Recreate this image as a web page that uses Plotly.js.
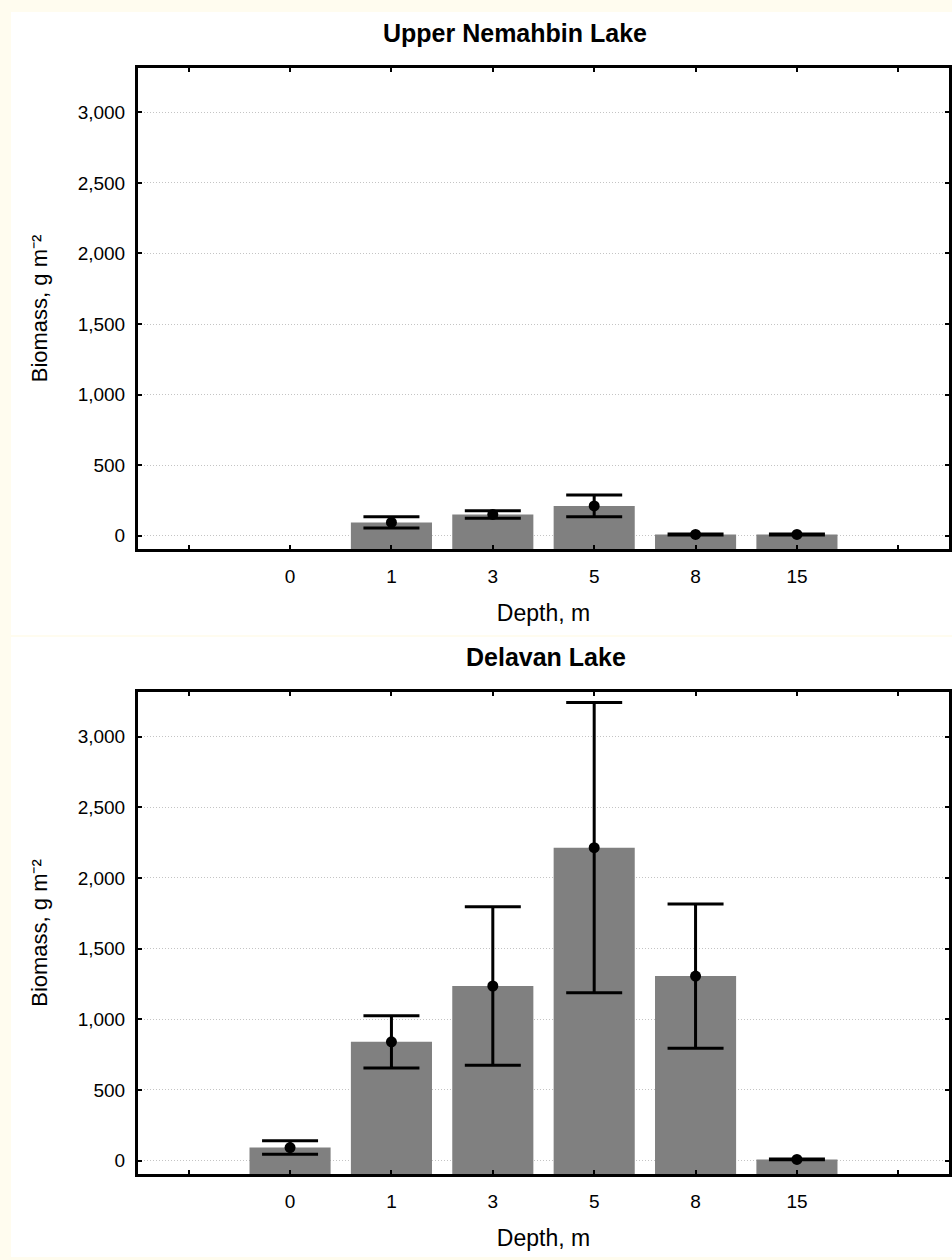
<!DOCTYPE html>
<html>
<head>
<meta charset="utf-8">
<script src="https://cdn.plot.ly/plotly-3.0.1.min.js"></script>
<style>
  html, body { margin: 0; padding: 0; background: #fffcef; }
  #wrap { position: relative; width: 952px; height: 1260px; overflow: hidden; }
  .panel { position: absolute; background: #ffffff; left: 11px; width: 941px; }
  #p1 { top: 12px; height: 623px; }
  #p2 { top: 637px; height: 620px; }
  #chart { position: absolute; left: 0; top: 0; width: 952px; height: 1260px; }
</style>
</head>
<body>
<div id="wrap">
  <div class="panel" id="p1"></div>
  <div class="panel" id="p2"></div>
  <div id="chart"></div>
</div>
<script>
// ---- data ----
const depths = ['0', '1', '3', '5', '8', '15'];
const lakeTitles = ['Upper Nemahbin Lake', 'Delavan Lake'];

const nemahbinMean = [null, 93, 150, 210, 8, 8];
const nemahbinErr  = [null, 40, 27, 77, 3, 3];

const delavanMean = [92, 840, 1235, 2214, 1305, 8];
const delavanErr  = [48, 185, 560, 1027, 510, 3];

const yTickVals = [0, 500, 1000, 1500, 2000, 2500, 3000];

// ---- layout constants ----
const Y_MIN = -95, Y_MAX = 3315;
const FONT = 'Liberation Sans, Arial, sans-serif';

// index positions derived from the depth list (one empty slot on each side)
const xPos = depths.map((d, i) => i);

function barTrace(means, xa, ya) {
  return {
    type: 'bar', xaxis: xa, yaxis: ya,
    x: xPos,
    base: Y_MIN,
    y: means.map(v => v == null ? null : v - Y_MIN),
    width: 0.8,
    marker: { color: '#808080', line: { width: 0 } },
    hoverinfo: 'skip', showlegend: false
  };
}
function meanTrace(means, errs, xa, ya) {
  return {
    type: 'scatter', mode: 'markers', xaxis: xa, yaxis: ya,
    x: xPos, y: means,
    marker: { color: '#000000', size: 11 },
    error_y: { type: 'data', array: errs, visible: true, color: '#000000', thickness: 3, width: 28 },
    showlegend: false
  };
}

const data = [
  barTrace(nemahbinMean, 'x', 'y'),
  meanTrace(nemahbinMean, nemahbinErr, 'x', 'y'),
  barTrace(delavanMean, 'x2', 'y2'),
  meanTrace(delavanMean, delavanErr, 'x2', 'y2')
];

function xAxis(anchor) {
  return {
    anchor: anchor, domain: [0, 1],
    range: [-1.5, depths.length + 0.5],
    tickmode: 'array', tickvals: xPos, ticktext: depths,
    ticks: 'inside', ticklen: 4, tickwidth: 2, tickcolor: '#000',
    minor: { tickmode: 'linear', tick0: 0, dtick: 1, ticks: 'inside', ticklen: 4, tickwidth: 2, tickcolor: '#000', showgrid: false },
    showline: true, linewidth: 3, linecolor: '#000', mirror: 'ticks',
    showgrid: false, zeroline: false,
    tickfont: { family: FONT, size: 19, color: '#000' },
    ticklabelstandoff: 8,
    title: { text: 'Depth, m', font: { family: FONT, size: 23, color: '#000' }, standoff: 20 }
  };
}
function yAxis(anchor, domain) {
  return {
    anchor: anchor, domain: domain,
    range: [Y_MIN, Y_MAX],
    tickmode: 'array', tickvals: yTickVals, tickformat: ',d',
    ticks: 'inside', ticklen: 4, tickwidth: 2, tickcolor: '#000',
    showline: true, linewidth: 3, linecolor: '#000', mirror: 'ticks',
    showgrid: true, gridcolor: '#c4c4c4', gridwidth: 1, griddash: '1px,2px',
    zeroline: false,
    tickfont: { family: FONT, size: 19, color: '#000' },
    ticklabelstandoff: 6,
    title: { text: 'Biomass, g m\u207B\u00B2', font: { family: FONT, size: 22, color: '#000' }, standoff: 24 }
  };
}

const layout = {
  width: 952, height: 1260,
  margin: { l: 138, r: 3, t: 68, b: 86, pad: 0 },
  paper_bgcolor: 'rgba(0,0,0,0)',
  plot_bgcolor: '#ffffff',
  xaxis: xAxis('y'),
  yaxis: yAxis('x', [0.5651, 1]),
  xaxis2: xAxis('y2'),
  yaxis2: yAxis('x2', [0, 0.4358]),
  annotations: [
    { text: '<b>' + lakeTitles[0] + '</b>', xref: 'paper', yref: 'paper', x: 0.4649, y: 1.0317,
      xanchor: 'center', yanchor: 'middle', showarrow: false,
      font: { family: FONT, size: 25, color: '#000' } },
    { text: '<b>' + lakeTitles[1] + '</b>', xref: 'paper', yref: 'paper', x: 0.5025, y: 0.4677,
      xanchor: 'center', yanchor: 'middle', showarrow: false,
      font: { family: FONT, size: 25, color: '#000' } }
  ]
};

Plotly.newPlot('chart', data, layout, { displayModeBar: false, staticPlot: true });
</script>
</body>
</html>
